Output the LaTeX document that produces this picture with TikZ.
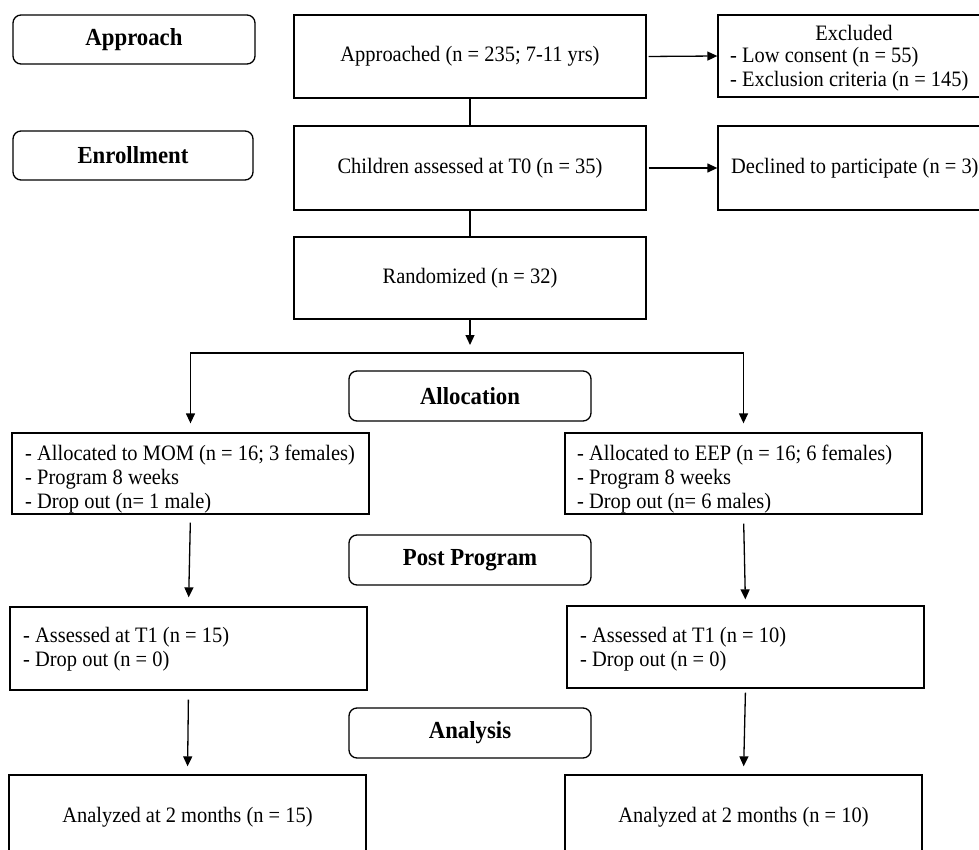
\documentclass[tikz,border=0pt]{standalone}
\usepackage{fontspec}
\setmainfont{Liberation Serif}[FakeStretch=0.93]
\usetikzlibrary{arrows.meta}
\begin{document}
\begin{tikzpicture}[x=1pt,y=-1pt,
  every node/.style={font=\fontsize{22}{24}\selectfont},
  box/.style={draw,line width=1.3pt,inner sep=0pt,minimum width=#1},
  stage/.style={draw,line width=1.3pt,rounded corners=8pt,inner sep=0pt,minimum width=242pt,minimum height=50pt,font=\fontsize{24.5}{27}\selectfont\bfseries},
  txt/.style={inner sep=0pt,anchor=west,align=left},
  arr/.style={line width=1.3pt,-{Triangle[length=10pt,width=9pt]}},
  ln/.style={line width=1.3pt}]
\useasboundingbox (0,0) rectangle (979,850);
\clip (0,0) rectangle (979,850);
% stage labels
\node[stage,minimum width=242pt,minimum height=49pt] (sApproach) at (134,39.5) {Approach};
\node[stage,minimum width=240pt,minimum height=49pt] (sEnroll) at (133,155.5) {Enrollment};
\node[stage] (sAlloc) at (470,396) {Allocation};
\node[stage] (sPost) at (470,560) {Post Program};
\node[stage] (sAnal) at (470,733) {Analysis};
% main boxes
\node[box=352pt,minimum height=83pt] (appr) at (470,56.5) {Approached (n = 235; 7-11 yrs)};
\node[box=352pt,minimum height=84pt] (child) at (470,168) {Children assessed at T0 (n = 35)};
\node[box=352pt,minimum height=82pt] (rand) at (470,278) {Randomized (n = 32)};
\node[box=272pt,minimum height=82pt] (excl) at (854,56) {};
\node[box=272pt,minimum height=84pt] (decl) at (854,168) {};
\node[inner sep=0pt] (exclT) at (854,33) {Excluded};
\node[txt] (exclL) at (730,69.5) {- Low consent (n = 55)\\- Exclusion criteria (n = 145)};
\node[txt] (declT) at (731,168) {Declined to participate (n = 3)};
% allocation boxes
\node[box=357pt,minimum height=81pt] (mom) at (190.5,473.5) {};
\node[box=357pt,minimum height=81pt] (eep) at (743.5,473.5) {};
\node[txt] (momT) at (25,479) {- Allocated to MOM (n = 16; 3 females)\\- Program 8 weeks\\- Drop out (n= 1 male)};
\node[txt] (eepT) at (577,479) {- Allocated to EEP (n = 16; 6 females)\\- Program 8 weeks\\- Drop out (n= 6 males)};
% T1 boxes
\node[box=357pt,minimum height=83pt] (momt1) at (188.5,648.5) {};
\node[box=357pt,minimum height=82pt] (eept1) at (745.5,647) {};
\node[txt] (momt1T) at (23,649.5) {- Assessed at T1 (n = 15)\\- Drop out (n = 0)};
\node[txt] (eept1T) at (580,649.5) {- Assessed at T1 (n = 10)\\- Drop out (n = 0)};
% analysis boxes
\node[box=357pt,minimum height=95pt] (anl) at (187.5,822.5) {};
\node[box=357pt,minimum height=95pt] (anr) at (743.5,822.5) {};
\node[inner sep=0pt] (anlT) at (187.5,817) {Analyzed at 2 months (n = 15)};
\node[inner sep=0pt] (anrT) at (743.5,817) {Analyzed at 2 months (n = 10)};
% connectors
\draw[arr,shorten <=2pt] (appr.east) -- (excl.west);
\draw[arr,shorten <=2pt] (child.east) -- (decl.west);
\draw[ln] (appr.south) -- (child.north);
\draw[ln] (child.south) -- (rand.north);
\coordinate (randEnd) at (470,345);
\coordinate (split) at (470,353);
\draw[arr] (rand.south) -- (randEnd);
\draw[arr,shorten >=9pt] (split) -| (mom.north);
\draw[arr,shorten >=9pt] (split) -| (eep.north);
\draw[arr,shorten <=8pt,shorten >=9pt] (mom.south) -- (momt1.north);
\draw[arr,shorten <=9pt,shorten >=8pt] (momt1.south) -- (anl.north);
\draw[arr,shorten <=9pt,shorten >=6pt] (eep.south) -- (eept1.north);
\draw[arr,shorten <=4pt,shorten >=8pt] (eept1.south) -- (anr.north);
\end{tikzpicture}
\end{document}
